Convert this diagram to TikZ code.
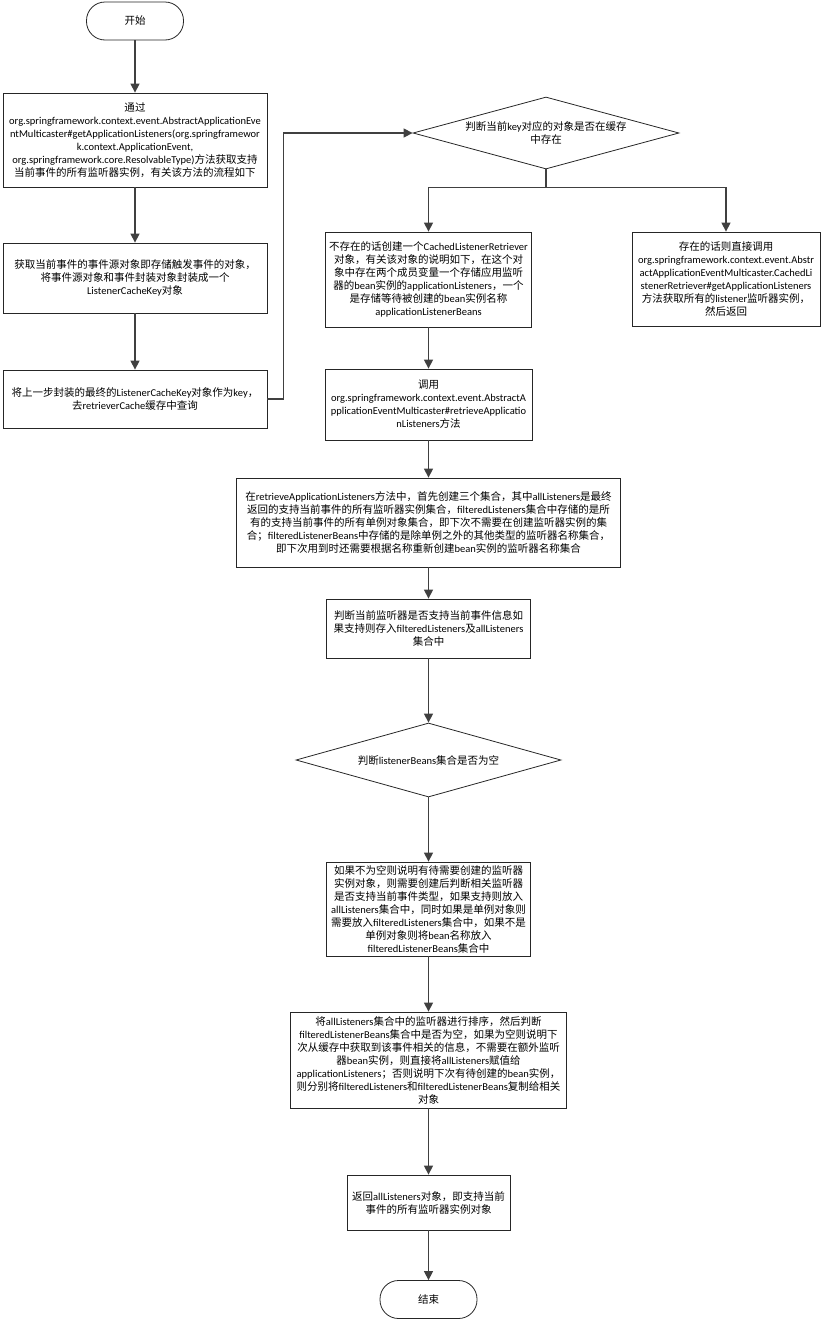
\documentclass[tikz,border=0pt]{standalone}
\usepackage{fontspec}
\setmainfont{Carlito}
\newfontfamily\latinfont{Carlito}
\newfontfamily\cjkfont{Noto Sans CJK SC}
\usetikzlibrary{arrows.meta,shapes.geometric}
% switch fonts automatically between Latin and CJK runs
\chardef\cjkclass=100
\newcount\cjkcnt
\def\setcjkrange#1#2{\cjkcnt=#1\relax
  \loop\XeTeXcharclass\cjkcnt=\cjkclass
  \ifnum\cjkcnt<#2\advance\cjkcnt by 1\repeat}
\setcjkrange{"3000}{"303F}
\setcjkrange{"4E00}{"9FFF}
\setcjkrange{"FF00}{"FFEF}
\XeTeXinterchartoks 0 \cjkclass={\cjkfont}
\XeTeXinterchartoks 4095 \cjkclass={\cjkfont}
\XeTeXinterchartoks \cjkclass 0={\latinfont}
\XeTeXinterchartoks \cjkclass 4095={\latinfont}
\XeTeXinterchartokenstate=1
\tikzset{
  txt/.style={font=\fontsize{10.5}{13}\selectfont, text=black, align=center, inner sep=0pt},
  box/.style={txt, draw=black!85, line width=0.8pt, rectangle},
  term/.style={txt, draw=black!85, line width=0.8pt, rectangle, rounded corners=18.5pt,
    minimum width=97pt, minimum height=38pt},
  decision/.style={txt, draw=black!85, line width=0.8pt, diamond, shape aspect=3.6},
  conn/.style={draw=black!75, line width=1.3pt, -{Triangle[length=9pt,width=9pt]}},
}
\begin{document}
\begin{tikzpicture}[x=1pt,y=-1pt]
\useasboundingbox (0,0) rectangle (822,1320);

% left column: lookup preparation
\node[term] (start) at (135,21) {开始};
\node[box, minimum width=264pt, minimum height=94pt] (b1) at (135,140)
  {通过\\org.springframework.context.event.AbstractApplicationEve\\ntMulticaster\#getApplicationListeners(org.springframewor\\k.context.ApplicationEvent,\\org.springframework.core.ResolvableType)方法获取支持\\当前事件的所有监听器实例，有关该方法的流程如下};
\node[box, minimum width=264pt, minimum height=70pt] (b2) at (135,278)
  {获取当前事件的事件源对象即存储触发事件的对象，\\将事件源对象和事件封装对象封装成一个\\ListenerCacheKey对象};
\node[box, minimum width=264pt, minimum height=58pt] (b3) at (135,399)
  {将上一步封装的最终的ListenerCacheKey对象作为key，\\去retrieverCache缓存中查询};

% cache check
\node[decision, minimum width=266pt, minimum height=72pt] (d1) at (546,133)
  {判断当前key对应的对象是否在缓存\\中存在};
\node[box, minimum width=206pt, minimum height=95pt] (b4) at (428.5,279.5)
  {不存在的话创建一个CachedListenerRetriever\\对象，有关该对象的说明如下，在这个对\\象中存在两个成员变量一个存储应用监听\\器的bean实例的applicationListeners，一个\\是存储等待被创建的bean实例名称\\applicationListenerBeans};
\node[box, minimum width=188pt, minimum height=94pt] (b5) at (726,279)
  {存在的话则直接调用\\org.springframework.context.event.Abstr\\actApplicationEventMulticaster.CachedLi\\stenerRetriever\#getApplicationListeners\\方法获取所有的listener监听器实例，\\然后返回};

% retrieval of listeners
\node[box, minimum width=207pt, minimum height=71pt] (b6) at (428.5,404.5)
  {调用\\org.springframework.context.event.AbstractA\\pplicationEventMulticaster\#retrieveApplicatio\\nListeners方法};
\node[box, minimum width=384pt, minimum height=89pt] (b7) at (428.5,522.5)
  {在retrieveApplicationListeners方法中，首先创建三个集合，其中allListeners是最终\\返回的支持当前事件的所有监听器实例集合，filteredListeners集合中存储的是所\\有的支持当前事件的所有单例对象集合，即下次不需要在创建监听器实例的集\\合；filteredListenerBeans中存储的是除单例之外的其他类型的监听器名称集合，\\即下次用到时还需要根据名称重新创建bean实例的监听器名称集合};
\node[box, minimum width=204pt, minimum height=59pt] (b8) at (428.5,628.5)
  {判断当前监听器是否支持当前事件信息如\\果支持则存入filteredListeners及allListeners\\集合中};
\node[decision, minimum width=265pt, minimum height=74pt] (d2) at (428.5,760)
  {判断listenerBeans集合是否为空};
\node[box, minimum width=204pt, minimum height=94pt] (b9) at (428.5,909)
  {如果不为空则说明有待需要创建的监听器\\实例对象，则需要创建后判断相关监听器\\是否支持当前事件类型，如果支持则放入\\allListeners集合中，同时如果是单例对象则\\需要放入filteredListeners集合中，如果不是\\单例对象则将bean名称放入\\filteredListenerBeans集合中};
\node[box, minimum width=276pt, minimum height=96pt] (b10) at (428.5,1060)
  {将allListeners集合中的监听器进行排序，然后判断\\filteredListenerBeans集合中是否为空，如果为空则说明下\\次从缓存中获取到该事件相关的信息，不需要在额外监听\\器bean实例，则直接将allListeners赋值给\\applicationListeners；否则说明下次有待创建的bean实例，\\则分别将filteredListeners和filteredListenerBeans复制给相关\\对象};
\node[box, minimum width=163pt, minimum height=55pt] (b11) at (428.5,1202.5)
  {返回allListeners对象，即支持当前\\事件的所有监听器实例对象};
\node[term] (end) at (428.5,1299.5) {结束};

% connectors
\draw[conn] (start) -- (b1);
\draw[conn] (b1) -- (b2);
\draw[conn] (b2) -- (b3);
\draw[conn] (b3.east) -- ++(16,0) |- (d1.west);
\draw[conn] (d1.south) -- ++(0,18) -| (b4.north);
\draw[conn] (d1.south) -- ++(0,18) -| (b5.north);
\draw[conn] (b4) -- (b6);
\draw[conn] (b6) -- (b7);
\draw[conn] (b7) -- (b8);
\draw[conn] (b8) -- (d2);
\draw[conn] (d2) -- (b9);
\draw[conn] (b9) -- (b10);
\draw[conn] (b10) -- (b11);
\draw[conn] (b11) -- (end);
\end{tikzpicture}
\end{document}
